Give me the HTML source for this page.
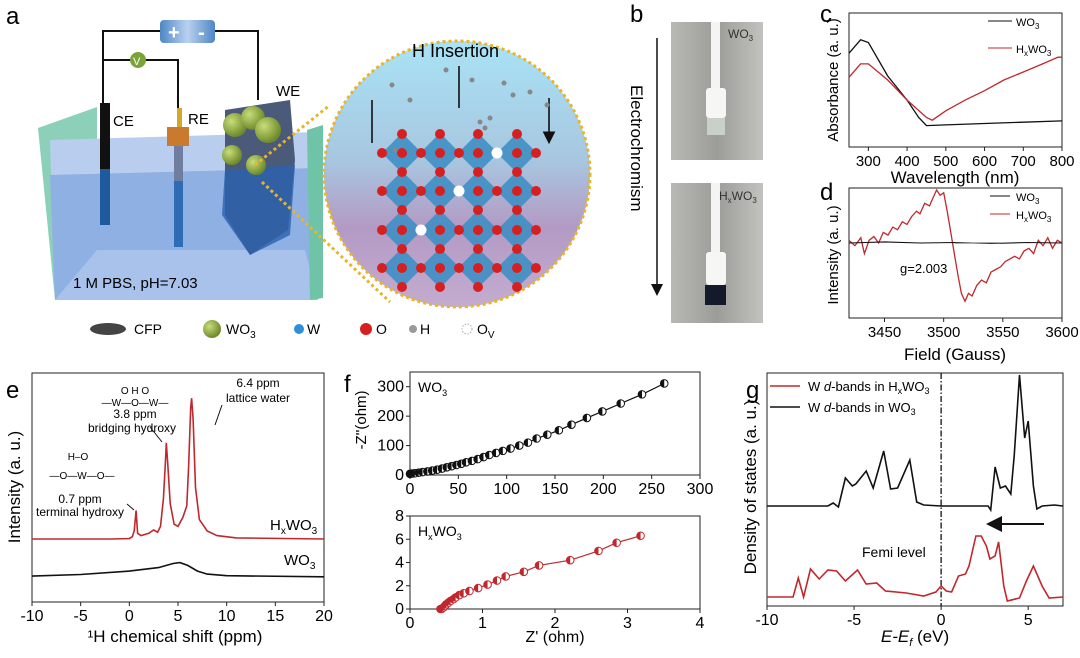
<!DOCTYPE html>
<html><head><meta charset="utf-8"><style>
html,body{margin:0;padding:0;background:#fff}
svg{display:block;font-family:"Liberation Sans",Arial,sans-serif}
</style></head><body>
<svg id="fig" width="1080" height="658" viewBox="0 0 1080 658" xmlns="http://www.w3.org/2000/svg">
<defs>
<radialGradient id="ballG" cx="35%" cy="35%" r="65%"><stop offset="0" stop-color="#c8dd7a"/><stop offset="1" stop-color="#6f8a2a"/></radialGradient>
<linearGradient id="circG" x1="0" y1="0" x2="0" y2="1"><stop offset="0" stop-color="#a9e3f5"/><stop offset="0.45" stop-color="#a8c6e0"/><stop offset="0.7" stop-color="#b39ac4"/><stop offset="1" stop-color="#c4acd0"/></linearGradient>
<linearGradient id="photoG" x1="0" y1="0" x2="1" y2="0"><stop offset="0" stop-color="#b8b8b4"/><stop offset="0.5" stop-color="#9c9c98"/><stop offset="1" stop-color="#c2c2be"/></linearGradient>
<linearGradient id="pwrG" x1="0" y1="0" x2="1" y2="0"><stop offset="0" stop-color="#4f86c6"/><stop offset="0.5" stop-color="#b9d1ee"/><stop offset="1" stop-color="#4f86c6"/></linearGradient>
<marker id="ah" markerWidth="8" markerHeight="8" refX="6" refY="4" orient="auto"><path d="M0,0 L8,4 L0,8 Z" fill="#111"/></marker>
</defs>

<!-- Panel a -->
<g>
<text x="6" y="24" font-size="24">a</text>
<polygon points="38,128 97,107 97,280 55,300" fill="#6fc4a8" opacity="0.8"/>
<polygon points="50,140 318,132 318,300 55,300" fill="#b9cdef"/>
<polygon points="50,175 318,168 318,300 55,300" fill="#8fb0e2"/>
<polygon points="55,300 97,250 305,250 318,300" fill="#a9c2ec"/>
<polygon points="307,130 323,125 323,298 310,300" fill="#6fc4a8"/>
<path d="M103,103 V31 H160 M215,31 H258 V100 M103,60 H178 V108" stroke="#111" stroke-width="2" fill="none"/>
<rect x="160" y="20" width="55" height="23" rx="4" fill="url(#pwrG)"/>
<text x="168" y="39" font-size="20" fill="#fff" font-weight="bold">+</text>
<text x="198" y="39" font-size="20" fill="#fff" font-weight="bold">-</text>
<circle cx="138" cy="60" r="8" fill="#7aa33a"/><text x="133" y="65" font-size="11" fill="#fff">V</text>
<rect x="100" y="103" width="10" height="66" fill="#111"/><rect x="100" y="169" width="10" height="56" fill="#1f5a9e"/>
<rect x="177" y="108" width="5" height="20" fill="#d4a62a"/><rect x="167" y="127" width="22" height="19" fill="#c97a2c"/>
<rect x="174" y="146" width="9" height="35" fill="#6f7e9e"/><rect x="174" y="181" width="9" height="66" fill="#2e6cb5"/>
<polygon points="225,110 290,100 295,160 288,230 250,255 225,215" fill="#4a5a78"/>
<polygon points="225,170 295,165 290,235 250,255 222,215" fill="#2b62b0" opacity="0.8"/>
<circle cx="235" cy="125" r="12" fill="url(#ballG)"/><circle cx="253" cy="118" r="12" fill="url(#ballG)"/><circle cx="268" cy="130" r="13" fill="url(#ballG)"/><circle cx="232" cy="155" r="10" fill="url(#ballG)"/><circle cx="256" cy="165" r="10" fill="url(#ballG)"/>
<text x="113" y="126" font-size="15">CE</text><text x="188" y="124" font-size="15">RE</text><text x="276" y="96" font-size="15">WE</text>
<text x="73" y="288" font-size="15">1 M PBS, pH=7.03</text>
<path d="M255,165 L330,105 M262,182 L390,302" stroke="#e7b52b" stroke-width="3" stroke-dasharray="3,3"/>
<circle cx="457" cy="174" r="133" fill="url(#circG)" stroke="#e7b52b" stroke-width="3" stroke-dasharray="3,3"/>
<text x="412" y="57" font-size="18">H Insertion</text>
<path d="M372,100 V143 M459,66 V108 M549,98 V141" stroke="#111" stroke-width="1.6" marker-end="url(#ah)"/>
<g id="lattice"></g>
<g font-size="14">
<ellipse cx="108" cy="329" rx="18" ry="6" fill="#444"/><text x="134" y="334">CFP</text>
<circle cx="212" cy="329" r="9" fill="url(#ballG)"/><text x="226" y="334">WO<tspan font-size="10" dy="4">3</tspan></text>
<circle cx="299" cy="329" r="5" fill="#2d8fd6"/><text x="307" y="334">W</text>
<circle cx="366" cy="329" r="6" fill="#d81f1f"/><text x="376" y="334">O</text>
<circle cx="413" cy="329" r="4" fill="#999"/><text x="420" y="334">H</text>
<circle cx="467" cy="329" r="5" fill="#fff" stroke="#aaa" stroke-dasharray="1.5,1.5"/><text x="477" y="334">O<tspan font-size="10" dy="4">V</tspan></text>
</g>
</g>

<!-- Panel b -->
<g>
<text x="630" y="22" font-size="24">b</text>
<line x1="657" y1="38" x2="657" y2="293" stroke="#111" stroke-width="1.5" marker-end="url(#ah)"/>
<text transform="translate(631,85) rotate(90)" font-size="17">Electrochromism</text>
<rect x="671" y="22" width="92" height="138" fill="url(#photoG)"/>
<rect x="711" y="22" width="9" height="72" fill="#f4f4f2"/><rect x="706" y="88" width="20" height="30" rx="3" fill="#f6f6f4"/>
<rect x="707" y="118" width="18" height="17" fill="#c8d0c8"/>
<text x="728" y="38" font-size="12" fill="#333">WO<tspan font-size="8" dy="3">3</tspan></text>
<rect x="671" y="183" width="92" height="140" fill="url(#photoG)"/>
<rect x="711" y="183" width="9" height="70" fill="#f4f4f2"/><rect x="706" y="252" width="20" height="33" rx="3" fill="#f6f6f4"/>
<rect x="705" y="285" width="21" height="20" fill="#141a2c"/>
<text x="719" y="200" font-size="12" fill="#333">H<tspan font-size="8" dy="3">x</tspan><tspan dy="-3">WO</tspan><tspan font-size="8" dy="3">3</tspan></text>
</g>

<g id="charts"></g>
</svg>
<script>
// ---------- data ----------
const cWave = [250,280,300,350,400,430,450,500,600,700,800];
const cWO3 = [0.70,0.80,0.78,0.53,0.35,0.22,0.16,0.165,0.175,0.185,0.195];
const cWaveH = [250,280,300,350,400,450,465,500,550,600,650,700,750,790,800];
const cHWO3 = [0.52,0.62,0.62,0.50,0.35,0.22,0.20,0.27,0.35,0.42,0.50,0.56,0.62,0.67,0.67];
const cTicks = [300,400,500,600,700,800];

const dField = [3420,3425,3430,3433,3437,3441,3445,3449,3453,3457,3461,3465,3469,3473,3477,3480,3484,3488,3491,3494,3497,3500,3503,3506,3509,3512,3515,3518,3521,3524,3528,3532,3536,3540,3544,3548,3552,3556,3560,3564,3568,3572,3576,3580,3584,3588,3592,3596,3600];
const dHWO3 = [0.05,-0.05,0.1,-0.2,0.05,0.12,0.0,0.2,0.15,0.3,0.25,0.4,0.35,0.5,0.6,0.55,0.75,0.7,0.85,1.0,0.9,0.95,0.6,0.2,-0.2,-0.6,-0.95,-1.1,-0.95,-1.0,-0.8,-0.7,-0.75,-0.55,-0.5,-0.45,-0.35,-0.3,-0.25,-0.3,-0.15,-0.1,-0.2,0.05,-0.05,0.1,-0.1,0.05,0.0];
const dFieldW = [3420,3450,3480,3510,3540,3570,3600];
const dWO3 = [0.0,0.02,0.0,0.01,-0.01,0.01,0.0];
const dTicks = [3450,3500,3550,3600];

const eShiftH = [-10,-2,0,0.3,0.5,0.7,0.85,1.2,2,2.5,2.9,3.2,3.5,3.7,3.8,3.95,4.2,4.6,5.0,5.5,5.9,6.1,6.3,6.4,6.55,6.8,7.2,8,9,11,20];
const eHWO3 = [27.5,27.5,27.7,28.5,31,40,30,29,30,31.5,30.5,33,45,60,69.5,60,43,34,33,37,42,60,85,89,80,50,36,31,29,28,27.5];
const eShiftW = [-10,-5,0,3,4.5,5.2,6,7,8,10,20];
const eWO3 = [11.3,12,13.5,15,16.8,17.2,16,13.5,12.2,11.5,11];
const eTicks = [-10,-5,0,5,10,15,20];

const fZre = [0,2,5,9,13,18,23,28,33,38,43,48,53,58,64,70,76,82,89,96,104,113,122,131,142,154,167,183,199,218,240,263];
const fZim = [4,5,6,8,10,12,15,18,22,26,30,34,38,43,48,54,61,68,75,82,90,100,110,124,137,152,171,194,216,243,274,311];
const fZreH = [0.42,0.44,0.46,0.48,0.5,0.53,0.56,0.6,0.63,0.68,0.74,0.82,0.94,1.07,1.2,1.32,1.57,1.78,2.21,2.6,2.85,3.18];
const fZimH = [0,0.03,0.12,0.25,0.4,0.55,0.7,0.85,1.0,1.2,1.35,1.55,1.8,2.1,2.45,2.8,3.2,3.75,4.2,5.0,5.7,6.3];
const fTopXTicks = [0,50,100,150,200,250,300];
const fTopYTicks = [0,100,200,300];
const fBotXTicks = [0,1,2,3,4];
const fBotYTicks = [0,2,4,6,8];

const gE = [-10,-6.5,-6.2,-5.9,-5.5,-5.1,-4.9,-4.3,-3.9,-3.3,-2.9,-2.5,-1.8,-1.4,-1,0,2.7,2.85,3.1,3.4,3.7,4.0,4.2,4.5,4.8,5.0,5.3,5.5,5.8,6.5,7];
const gWO3 = [100,100,103,99,128,120,122,135,118,155,117,118,146,104,101,100,100,96,139,118,120,112,150,231,168,185,120,97,100,101,100];
const gEH = [-10,-8.5,-8.2,-7.9,-7.5,-7,-6.5,-6,-5.5,-4.8,-4.3,-3.7,-3.2,-2,-1,-0.3,0,0.3,0.6,1,1.4,1.6,2.0,2.3,2.6,2.8,3.1,3.3,3.6,3.8,4.5,4.9,5.3,5.8,6.2,7];
const gHWO3 = [9,9,28,9,37,27,36,35,25,36,22,23,15,13,10,14,20,15,14,30,32,40,70,70,60,47,50,64,20,5,8,25,40,20,8,9];
const gTicks = [-10,-5,0,5];

// ---------- helpers ----------
const NS = "http://www.w3.org/2000/svg";
const root = document.getElementById('charts');
function mk(tag, attrs, parent){const e=document.createElementNS(NS,tag);for(const k in attrs)e.setAttribute(k,attrs[k]);(parent||root).appendChild(e);return e;}
function scale(d0,d1,r0,r1){return v=>r0+(v-d0)*(r1-r0)/(d1-d0);}
function linePath(xs,ys,sx,sy){return xs.map((x,i)=>(i?'L':'M')+sx(x).toFixed(1)+','+sy(ys[i]).toFixed(1)).join(' ');}
function txt(x,y,s,size,anchor,parent){const t=mk('text',{x:x,y:y,'font-size':size,'text-anchor':anchor||'start'},parent);t.textContent=s;return t;}
function box(x0,y0,x1,y1,g){mk('rect',{x:x0,y:y0,width:x1-x0,height:y1-y0,fill:'none',stroke:'#222','stroke-width':1},g);}
function xTicks(ticks,sx,y,g,size){ticks.forEach(t=>{mk('line',{x1:sx(t),x2:sx(t),y1:y,y2:y+4,stroke:'#222'},g);txt(sx(t),y+19,String(t),size||15,'middle',g);});}
function yTicks(ticks,sy,x,g,size){ticks.forEach(t=>{mk('line',{x1:x-4,x2:x,y1:sy(t),y2:sy(t),stroke:'#222'},g);txt(x-6,sy(t)+5,String(t),size||15,'end',g);});}
function vlabel(x,y,s,size,g){const t=mk('text',{x:0,y:0,'font-size':size,'text-anchor':'middle',transform:`translate(${x},${y}) rotate(-90)`},g);t.textContent=s;return t;}
const RED='#c0282d', BLK='#111';

// ---------- lattice (panel a) ----------
(function(){
 const L=document.getElementById('lattice');
 const cx=[402,440,478,517], cy=[153,191,230,268];
 cy.forEach(y=>cx.forEach(x=>{mk('polygon',{points:`${x},${y-20} ${x+20},${y} ${x},${y+20} ${x-20},${y}`,fill:'#3f8fc4',opacity:0.9},L);}));
 cy.forEach(y=>{[382,402,421,440,459,478,497,517,536].forEach(x=>mk('circle',{cx:x,cy:y,r:5,fill:'#d81f1f'},L));});
 [134,172,210,249,287].forEach(y=>cx.forEach(x=>mk('circle',{cx:x,cy:y,r:5,fill:'#d81f1f'},L)));
 [[497,153],[459,191],[421,230]].forEach(p=>mk('circle',{cx:p[0],cy:p[1],r:5.5,fill:'#fff'},L));
 [[392,85],[410,100],[446,70],[472,80],[480,122],[490,118],[504,83],[513,95],[530,92],[547,105],[485,128],[395,150]].forEach(p=>mk('circle',{cx:p[0],cy:p[1],r:2.5,fill:'#888'},L));
})();

// ---------- panel c ----------
(function(){
 const g=mk('g',{});  
 const sx=scale(250,800,849,1062), sy=scale(0,1,147,13);
 txt(820,22,'c',24,'start',g);
 box(849,13,1062,147,g);
 xTicks(cTicks,sx,147,g,15);
 txt(955,183,'Wavelength (nm)',17,'middle',g);
 vlabel(838,80,'Absorbance (a. u.)',15,g);
 const p1=mk('path',{d:linePath(cWave,cWO3,sx,sy),fill:'none',stroke:BLK,'stroke-width':1.3},g);  
 const p2=mk('path',{d:linePath(cWaveH,cHWO3,sx,sy),fill:'none',stroke:RED,'stroke-width':1.3},g);  
 mk('line',{x1:988,x2:1012,y1:21,y2:21,stroke:BLK},g); const t1=txt(1016,26,'WO',11,'start',g); mk('tspan',{'font-size':8,dy:3},t1).textContent='3';
 mk('line',{x1:988,x2:1012,y1:48,y2:48,stroke:RED},g); const t2=txt(1016,53,'H',11,'start',g); mk('tspan',{'font-size':8,dy:3},t2).textContent='x'; mk('tspan',{dy:-3},t2).textContent='WO'; mk('tspan',{'font-size':8,dy:3},t2).textContent='3';
})();

// ---------- panel d ----------
(function(){
 const g=mk('g',{});  
 const sx=scale(3420,3600,849,1062), sy=scale(0,1,243,190);
 txt(820,200,'d',24,'start',g);
 box(849,188,1062,318,g);
 xTicks(dTicks,sx,318,g,15);
 txt(955,360,'Field (Gauss)',17,'middle',g);
 vlabel(838,255,'Intensity (a. u.)',15,g);
 const p2=mk('path',{d:linePath(dField,dHWO3,sx,sy),fill:'none',stroke:RED,'stroke-width':1.3},g);  
 const p1=mk('path',{d:linePath(dFieldW,dWO3,sx,sy),fill:'none',stroke:BLK,'stroke-width':1.1},g);  
 mk('line',{x1:955,x2:1000,y1:243,y2:243,stroke:'#555'},g);
 txt(900,273,'g=2.003',13,'start',g);
 mk('line',{x1:990,x2:1010,y1:196,y2:196,stroke:BLK},g); const t1=txt(1016,201,'WO',11,'start',g); mk('tspan',{'font-size':8,dy:3},t1).textContent='3';
 mk('line',{x1:990,x2:1010,y1:214,y2:214,stroke:RED},g); const t2=txt(1016,219,'H',11,'start',g); mk('tspan',{'font-size':8,dy:3},t2).textContent='x'; mk('tspan',{dy:-3},t2).textContent='WO'; mk('tspan',{'font-size':8,dy:3},t2).textContent='3';
})();

// ---------- panel e ----------
(function(){
 const g=mk('g',{});  
 const sx=scale(-10,20,32,324), sy=scale(0,100,602,373);
 txt(6,398,'e',24,'start',g);
 box(32,373,324,602,g);
 xTicks(eTicks,sx,602,g,16);
 txt(175,642,'¹H chemical shift (ppm)',17,'middle',g);
 vlabel(20,487,'Intensity (a. u.)',17,g);
 const p1=mk('path',{d:linePath(eShiftW,eWO3,sx,sy),fill:'none',stroke:BLK,'stroke-width':1.6},g);  
 const p2=mk('path',{d:linePath(eShiftH,eHWO3,sx,sy),fill:'none',stroke:RED,'stroke-width':1.6},g);  
 const t2=txt(270,530,'H',15,'start',g); mk('tspan',{'font-size':10,dy:4},t2).textContent='x'; mk('tspan',{dy:-4},t2).textContent='WO'; mk('tspan',{'font-size':10,dy:4},t2).textContent='3';
 const t1=txt(284,565,'WO',15,'start',g); mk('tspan',{'font-size':10,dy:4},t1).textContent='3';
 txt(258,387,'6.4 ppm',12,'middle',g); txt(258,402,'lattice water',12,'middle',g);
 txt(135,418,'3.8 ppm',12,'middle',g); txt(132,432,'bridging hydroxy',12,'middle',g);
 txt(80,503,'0.7 ppm',12,'middle',g); txt(80,516,'terminal hydroxy',12,'middle',g);
 txt(135,406,'—W—O—W—',10,'middle',g); txt(135,394,'O   H   O',10,'middle',g);
 txt(82,479,'—O—W—O—',10,'middle',g); txt(78,460,'H‒O',10,'middle',g);
 mk('path',{d:'M222,405 L215,425 M162,442 L150,427 M134,510 L127,504',stroke:'#111','stroke-width':1,fill:'none'},g);
})();

// ---------- panel f ----------
(function(){
 const g=mk('g',{});  
 txt(344,392,'f',24,'start',g);
 const sx=scale(0,300,410,700), sy=scale(0,350,475,372);
 box(410,372,700,475,g);
 xTicks(fTopXTicks,sx,475,g,16); yTicks(fTopYTicks,sy,410,g,16);
 const sx2=scale(0,4,410,700), sy2=scale(0,8,609,516);
 box(410,516,700,609,g);
 xTicks(fBotXTicks,sx2,609,g,16); yTicks(fBotYTicks,sy2,410,g,16);
 txt(555,642,"Z' (ohm)",16,'middle',g);
 vlabel(366,420,"-Z''(ohm)",15,g);
 const t1=txt(418,392,'WO',14,'start',g); mk('tspan',{'font-size':9,dy:4},t1).textContent='3';
 const t2=txt(418,536,'H',14,'start',g); mk('tspan',{'font-size':9,dy:4},t2).textContent='x'; mk('tspan',{dy:-4},t2).textContent='WO'; mk('tspan',{'font-size':9,dy:4},t2).textContent='3';
 const l1=mk('path',{d:linePath(fZre,fZim,sx,sy),fill:'none',stroke:BLK,'stroke-width':1.2},g);  
 const l2=mk('path',{d:linePath(fZreH,fZimH,sx2,sy2),fill:'none',stroke:RED,'stroke-width':1.2},g);  
 function half(cx,cy,col,name){
  const c=mk('circle',{cx:cx,cy:cy,r:3.8,fill:'#fff',stroke:col,'stroke-width':1},g);
   
  mk('path',{d:`M${cx},${cy-3.8} A3.8,3.8 0 0 0 ${cx},${cy+3.8} Z`,fill:col},g);
 }
 fZre.forEach((x,i)=>half(sx(x),sy(fZim[i]),BLK,'wo3-point'));
 fZreH.forEach((x,i)=>half(sx2(x),sy2(fZimH[i]),RED,'hxwo3-point'));
})();

// ---------- panel g ----------
(function(){
 const g=mk('g',{});  
 const sx=scale(-10,7,767,1063), sy=scale(0,233,606,373);
 txt(746,398,'g',24,'start',g);
 box(767,373,1063,606,g);
 xTicks(gTicks,sx,606,g,16);
 const xl=txt(915,642,'',17,'middle',g); mk('tspan',{'font-style':'italic'},xl).textContent='E-E'; mk('tspan',{'font-size':11,dy:4,'font-style':'italic'},xl).textContent='f'; mk('tspan',{dy:-4},xl).textContent=' (eV)';
 vlabel(756,487,'Density of states (a. u.)',17,g);
 const f=mk('line',{x1:sx(0),x2:sx(0),y1:373,y2:606,stroke:'#111','stroke-width':1.3,'stroke-dasharray':'6,2,1.5,2'},g);  
 const p1=mk('path',{d:linePath(gE,gWO3,sx,sy),fill:'none',stroke:BLK,'stroke-width':1.6},g);  
 const p2=mk('path',{d:linePath(gEH,gHWO3,sx,sy),fill:'none',stroke:RED,'stroke-width':1.6},g);  
 mk('line',{x1:1044,x2:990,y1:524,y2:524,stroke:'#111','stroke-width':2,'marker-end':'url(#ah)'},g);
 txt(862,557,'Femi level',14,'start',g);
 mk('line',{x1:770,x2:800,y1:386,y2:386,stroke:RED,'stroke-width':1.6},g);
 const a=txt(808,391,'W ',13,'start',g); mk('tspan',{'font-style':'italic'},a).textContent='d'; mk('tspan',{},a).textContent='-bands in H'; mk('tspan',{'font-size':9,dy:3},a).textContent='x'; mk('tspan',{dy:-3},a).textContent='WO'; mk('tspan',{'font-size':9,dy:3},a).textContent='3';
 mk('line',{x1:770,x2:800,y1:407,y2:407,stroke:BLK,'stroke-width':1.6},g);
 const b=txt(808,412,'W ',13,'start',g); mk('tspan',{'font-style':'italic'},b).textContent='d'; mk('tspan',{},b).textContent='-bands in WO'; mk('tspan',{'font-size':9,dy:3},b).textContent='3';
})();
</script>
</body></html>
